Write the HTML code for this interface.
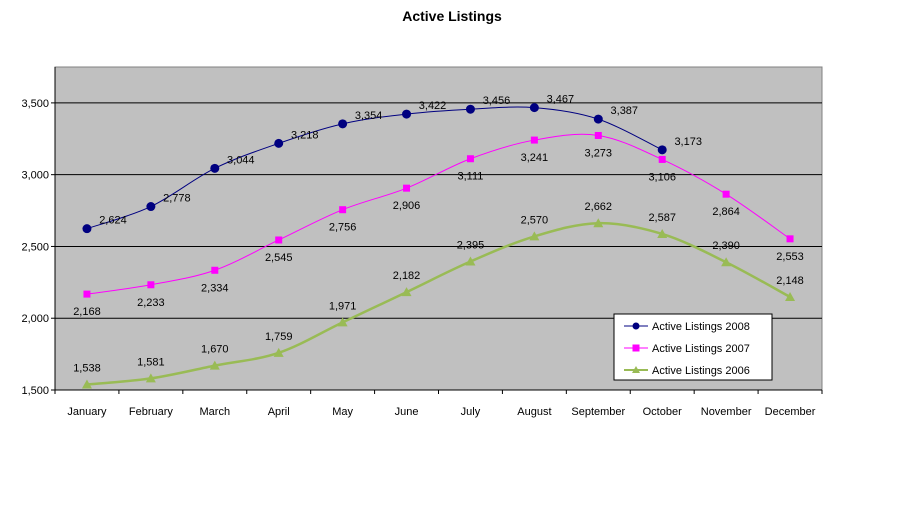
<!DOCTYPE html>
<html><head><meta charset="utf-8"><style>
body{margin:0;background:#fff;}
svg text{font-family:"Liberation Sans",Arial,sans-serif;}
</style></head><body>
<svg id="chart" width="900" height="500" xmlns="http://www.w3.org/2000/svg">
<text x="452" y="21" text-anchor="middle" font-size="14" font-weight="bold">Active Listings</text>
<rect x="55" y="67" width="767" height="323" fill="#c0c0c0" stroke="#808080"/>
<g id="grid"></g><g id="axes"></g><g id="series"></g><g id="labels"></g>
<g>
<rect x="614" y="314" width="158" height="66" fill="#fff" stroke="#000"/>
<g><line x1="624" y1="326" x2="648" y2="326" stroke="#000080"/><circle cx="636" cy="326" r="3.5" fill="#000080"/><text x="652" y="330" font-size="11">Active Listings 2008</text></g>
<g><line x1="624" y1="348" x2="648" y2="348" stroke="#ff00ff"/><rect x="632.5" y="344.5" width="7" height="7" fill="#ff00ff"/><text x="652" y="352" font-size="11">Active Listings 2007</text></g>
<g><line x1="624" y1="370" x2="648" y2="370" stroke="#99bb55" stroke-width="2"/><polygon points="636,366 640,373 632,373" fill="#99bb55"/><text x="652" y="374" font-size="11">Active Listings 2006</text></g>
</g>
</svg>
<script>
const categories=["January","February","March","April","May","June","July","August","September","October","November","December"];
const s2008=[2624,2778,3044,3218,3354,3422,3456,3467,3387,3173,null,null];
const s2007=[2168,2233,2334,2545,2756,2906,3111,3241,3273,3106,2864,2553];
const s2006=[1538,1581,1670,1759,1971,2182,2395,2570,2662,2587,2390,2148];
const yTicks=[1500,2000,2500,3000,3500];
const NS="http://www.w3.org/2000/svg";
const L=55,R=822,T=67,B=390,yMin=1500,yMax=3750;
const step=(R-L)/categories.length;
function xs(i){return L+step*(i+0.5);}
function ys(v){return B-(v-yMin)/(yMax-yMin)*(B-T);}
function mk(tag,attrs,parent){const e=document.createElementNS(NS,tag);for(const k in attrs)e.setAttribute(k,attrs[k]);parent.appendChild(e);return e;}
const grid=document.getElementById('grid'),axes=document.getElementById('axes'),ser=document.getElementById('series'),lab=document.getElementById('labels');
yTicks.forEach(v=>{
  const y=ys(v);
  if(v>yMin){const g=mk('line',{x1:L,x2:R,y1:y,y2:y,stroke:'#000'},grid);
  
  }
  mk('line',{x1:L-4,x2:L,y1:y,y2:y,stroke:'#000'},axes);
  const t=mk('text',{x:L-6,y:y+4,'text-anchor':'end','font-size':11},axes);
  t.textContent=v.toLocaleString('en-US');
  
  
});
mk('line',{x1:L,x2:L,y1:T,y2:B,stroke:'#000'},axes);
mk('line',{x1:L,x2:R,y1:B,y2:B,stroke:'#000'},axes);
categories.forEach((c,i)=>{
  const x=L+step*i;
  mk('line',{x1:x,x2:x,y1:B,y2:B+4,stroke:'#000'},axes);
  const t=mk('text',{x:xs(i),y:B+25,'text-anchor':'middle','font-size':11},axes);
  t.textContent=c;
  
  
});
mk('line',{x1:R,x2:R,y1:B,y2:B+4,stroke:'#000'},axes);
function smooth(pts){
  let d='M'+pts[0][0]+','+pts[0][1];
  for(let i=0;i<pts.length-1;i++){
    const p0=pts[i-1]||pts[i],p1=pts[i],p2=pts[i+1],p3=pts[i+2]||p2;
    const c1x=p1[0]+(p2[0]-p0[0])/6,c1y=p1[1]+(p2[1]-p0[1])/6;
    const c2x=p2[0]-(p3[0]-p1[0])/6,c2y=p2[1]-(p3[1]-p1[1])/6;
    d+=' C'+c1x+','+c1y+' '+c2x+','+c2y+' '+p2[0]+','+p2[1];
  }
  return d;
}
function draw(vals,color,width,marker,name,ldx,ldy){
  const pts=[];vals.forEach((v,i)=>{if(v!=null)pts.push([xs(i),ys(v),v]);});
  const p=mk('path',{d:smooth(pts),fill:'none',stroke:color,'stroke-width':width},ser);
  
  
  pts.forEach(([x,y,v])=>{
    let m;
    if(marker==='circle')m=mk('circle',{cx:x,cy:y,r:4.5,fill:color},ser);
    else if(marker==='square')m=mk('rect',{x:x-3.5,y:y-3.5,width:7,height:7,fill:color},ser);
    else m=mk('polygon',{points:(x)+','+(y-5)+' '+(x+5)+','+(y+4)+' '+(x-5)+','+(y+4),fill:color},ser);
    
    
    const t=mk('text',{x:x+ldx,y:y+ldy,'text-anchor':'middle','font-size':11},lab);
    t.textContent=v.toLocaleString('en-US');
    
    
  });
}
draw(s2006,'#99bb55',2.5,'tri','series-2006',0,-13);
draw(s2007,'#ff00ff',1,'square','series-2007',0,21);
draw(s2008,'#000080',1,'circle','series-2008',26,-5);
</script>
</body></html>
